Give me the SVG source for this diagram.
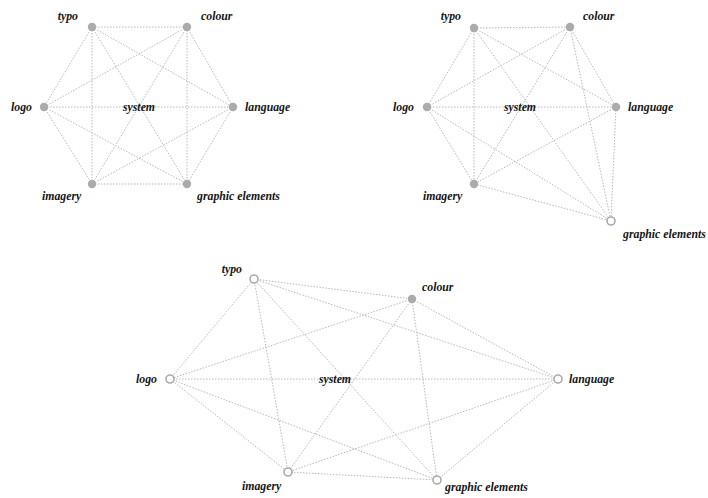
<svg xmlns="http://www.w3.org/2000/svg" width="708" height="498" viewBox="0 0 708 498">
<style>
.e{stroke:#b8b8b8;stroke-width:1;stroke-dasharray:1.5 1.5;fill:none}
.f{fill:#ababab}
.h{fill:#fff;stroke:#aaaaaa;stroke-width:1.6}
text{font-family:"Liberation Serif","DejaVu Serif",serif;font-style:italic;font-weight:bold;font-size:11.8px;fill:#151515}
.r{text-anchor:end}
.m{text-anchor:middle}
</style>
<rect width="708" height="498" fill="#fff"/>
<g id="connectors">
<g id="d1-edges">
<line class="e" x1="92" y1="27" x2="187" y2="27"/>
<line class="e" x1="92" y1="27" x2="44" y2="107"/>
<line class="e" x1="92" y1="27" x2="92" y2="184"/>
<line class="e" x1="92" y1="27" x2="233" y2="107"/>
<line class="e" x1="92" y1="27" x2="187" y2="184"/>
<line class="e" x1="187" y1="27" x2="44" y2="107"/>
<line class="e" x1="187" y1="27" x2="233" y2="107"/>
<line class="e" x1="187" y1="27" x2="92" y2="184"/>
<line class="e" x1="187" y1="27" x2="187" y2="184"/>
<line class="e" x1="44" y1="107" x2="233" y2="107"/>
<line class="e" x1="44" y1="107" x2="92" y2="184"/>
<line class="e" x1="44" y1="107" x2="187" y2="184"/>
<line class="e" x1="233" y1="107" x2="92" y2="184"/>
<line class="e" x1="233" y1="107" x2="187" y2="184"/>
<line class="e" x1="92" y1="184" x2="187" y2="184"/>
</g>
<g id="d2-edges">
<line class="e" x1="474" y1="28" x2="570" y2="27"/>
<line class="e" x1="474" y1="28" x2="427" y2="107"/>
<line class="e" x1="474" y1="28" x2="474" y2="184"/>
<line class="e" x1="474" y1="28" x2="616" y2="107"/>
<line class="e" x1="474" y1="28" x2="611" y2="221"/>
<line class="e" x1="570" y1="27" x2="427" y2="107"/>
<line class="e" x1="570" y1="27" x2="616" y2="107"/>
<line class="e" x1="570" y1="27" x2="474" y2="184"/>
<line class="e" x1="570" y1="27" x2="611" y2="221"/>
<line class="e" x1="427" y1="107" x2="616" y2="107"/>
<line class="e" x1="427" y1="107" x2="474" y2="184"/>
<line class="e" x1="427" y1="107" x2="611" y2="221"/>
<line class="e" x1="616" y1="107" x2="474" y2="184"/>
<line class="e" x1="616" y1="107" x2="611" y2="221"/>
<line class="e" x1="474" y1="184" x2="611" y2="221"/>
</g>
<g id="d3-edges">
<line class="e" x1="254" y1="279" x2="412" y2="299"/>
<line class="e" x1="254" y1="279" x2="170" y2="379"/>
<line class="e" x1="254" y1="279" x2="288" y2="472"/>
<line class="e" x1="254" y1="279" x2="558" y2="379"/>
<line class="e" x1="254" y1="279" x2="437" y2="480"/>
<line class="e" x1="412" y1="299" x2="170" y2="379"/>
<line class="e" x1="412" y1="299" x2="558" y2="379"/>
<line class="e" x1="412" y1="299" x2="288" y2="472"/>
<line class="e" x1="412" y1="299" x2="437" y2="480"/>
<line class="e" x1="170" y1="379" x2="558" y2="379"/>
<line class="e" x1="170" y1="379" x2="288" y2="472"/>
<line class="e" x1="170" y1="379" x2="437" y2="480"/>
<line class="e" x1="558" y1="379" x2="288" y2="472"/>
<line class="e" x1="558" y1="379" x2="437" y2="480"/>
<line class="e" x1="288" y1="472" x2="437" y2="480"/>
</g>
</g>
<g id="d1">
<text class="m" x="139" y="111">system</text>
<g id="d1-typo"><circle class="f" cx="92" cy="27" r="4.2"/><text class="r" x="78" y="20">typo</text></g>
<g id="d1-colour"><circle class="f" cx="187" cy="27" r="4.2"/><text x="201" y="20">colour</text></g>
<g id="d1-logo"><circle class="f" cx="44" cy="107" r="4.2"/><text class="r" x="32" y="111">logo</text></g>
<g id="d1-language"><circle class="f" cx="233" cy="107" r="4.2"/><text x="245" y="111">language</text></g>
<g id="d1-imagery"><circle class="f" cx="92" cy="184" r="4.2"/><text x="42" y="200">imagery</text></g>
<g id="d1-graphic"><circle class="f" cx="187" cy="184" r="4.2"/><text x="197" y="200">graphic elements</text></g>
</g>
<g id="d2">
<text class="m" x="520" y="111">system</text>
<g id="d2-typo"><circle class="f" cx="474" cy="28" r="4.2"/><text class="r" x="461" y="20">typo</text></g>
<g id="d2-colour"><circle class="f" cx="570" cy="27" r="4.2"/><text x="583" y="20">colour</text></g>
<g id="d2-logo"><circle class="f" cx="427" cy="107" r="4.2"/><text class="r" x="414" y="111">logo</text></g>
<g id="d2-language"><circle class="f" cx="616" cy="107" r="4.2"/><text x="628" y="111">language</text></g>
<g id="d2-imagery"><circle class="f" cx="474" cy="184" r="4.2"/><text x="423" y="200">imagery</text></g>
<g id="d2-graphic"><circle class="h" cx="611" cy="221" r="4"/><text x="623" y="238">graphic elements</text></g>
</g>
<g id="d3">
<text class="m" x="335" y="383">system</text>
<g id="d3-typo"><circle class="h" cx="254" cy="279" r="4"/><text class="r" x="242" y="273">typo</text></g>
<g id="d3-colour"><circle class="f" cx="412" cy="299" r="4.2"/><text x="422" y="291">colour</text></g>
<g id="d3-logo"><circle class="h" cx="170" cy="379" r="4"/><text class="r" x="157" y="383">logo</text></g>
<g id="d3-language"><circle class="h" cx="558" cy="379" r="4"/><text x="569" y="383">language</text></g>
<g id="d3-imagery"><circle class="h" cx="288" cy="472" r="4"/><text x="242" y="490">imagery</text></g>
<g id="d3-graphic"><circle class="h" cx="437" cy="480" r="4"/><text x="445" y="491">graphic elements</text></g>
</g>
</svg>
